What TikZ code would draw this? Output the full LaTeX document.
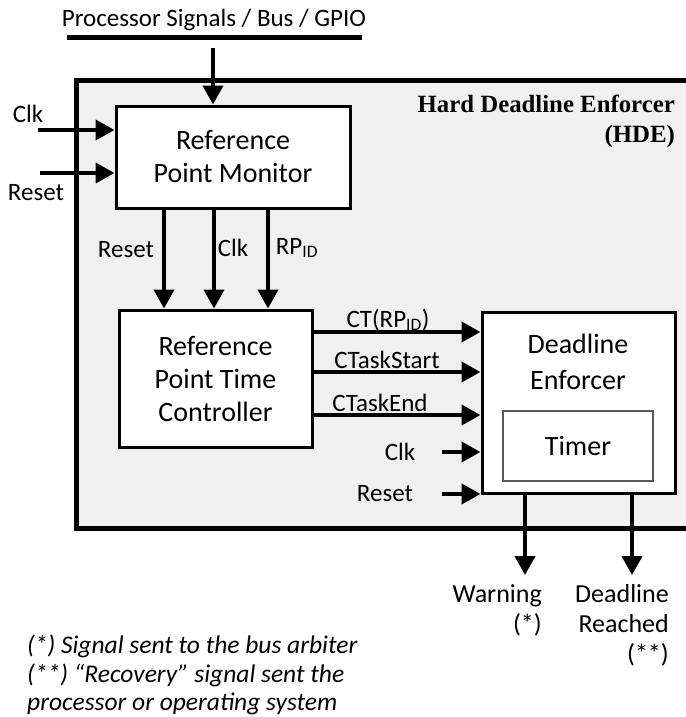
\documentclass[tikz,border=0pt]{standalone}
\usepackage{fontspec}
\setmainfont{Carlito}
\newfontfamily\titlefont{Liberation Serif}
\usetikzlibrary{arrows.meta}
\definecolor{hdegray}{RGB}{240,240,240}
\begin{document}
\begin{tikzpicture}[x=1pt,y=-1pt,
  blk/.style={draw,line width=3pt,fill=white,inner sep=0pt,align=center,
    font=\fontsize{28}{33}\selectfont},
  sig/.style={line width=4pt,-{Triangle[length=19pt,width=20pt]}},
  lbl/.style={inner sep=0pt,font=\fontsize{25}{30}\selectfont},
  outl/.style={inner sep=0pt,align=right,font=\fontsize{26}{30}\selectfont}]
\useasboundingbox (0,0) rectangle (685,717);
% outer HDE box (open to the right edge)
\draw[line width=5pt,fill=hdegray] (690,528) -- (76,528) -- (76,80) -- (690,80);
\node[anchor=north east,align=right,inner sep=0pt,
  font=\titlefont\bfseries\fontsize{24.8}{30}\selectfont] (title) at (675,95)
  {Hard Deadline Enforcer\\(HDE)};
% bus
\coordinate (busl) at (67,38);
\coordinate (busr) at (362,38);
\draw[line width=5pt] (busl) -- (busr);
\node[lbl] (bus) at (214,20) {Processor Signals / Bus / GPIO};
% blocks
\node[blk,minimum width=234pt,minimum height=102pt] (rpm) at (233,157) {Reference\\Point Monitor};
\node[blk,minimum width=193pt,minimum height=137pt] (rptc) at (215.5,378.5) {Reference\\Point Time\\Controller};
\node[blk,minimum width=193pt,minimum height=181pt] (de) at (578.5,402.5) {};
\node[inner sep=0pt,align=center,font=\fontsize{28}{36}\selectfont] (delbl) at (578,362) {Deadline\\Enforcer};
\node[draw=black!65,line width=1.5pt,fill=white,minimum width=150pt,minimum height=70pt,
  font=\fontsize{28}{32}\selectfont] (timer) at (578,446) {Timer};
% bus to RPM
\coordinate (bustap) at (213,48);
\draw[sig] (bustap) -- (rpm.north -| bustap);
% RPM inputs
\coordinate (clkin) at (38,130);
\coordinate (rstin) at (40,173);
\draw[sig] (clkin) -- (rpm.west |- clkin);
\draw[sig] (rstin) -- (rpm.west |- rstin);
\node[lbl] (clkl) at (28,114) {Clk};
\node[lbl] (rstl) at (36,193) {Reset};
% RPM -> RPTC
\coordinate (xa) at (164,0);
\coordinate (xb) at (214,0);
\coordinate (xc) at (268,0);
\draw[sig] (rpm.south -| xa) -- (rptc.north -| xa);
\draw[sig] (rpm.south -| xb) -- (rptc.north -| xb);
\draw[sig] (rpm.south -| xc) -- (rptc.north -| xc);
\node[lbl] (l1) at (126,250) {Reset};
\node[lbl] (l2) at (233,248) {Clk};
\node[lbl] (l3) at (297,248) {RP\textsubscript{ID}};
% RPTC -> DE
\coordinate (ya) at (0,332);
\coordinate (yb) at (0,372);
\coordinate (yc) at (0,415);
\draw[sig] (rptc.east |- ya) -- (de.west |- ya);
\draw[sig] (rptc.east |- yb) -- (de.west |- yb);
\draw[sig] (rptc.east |- yc) -- (de.west |- yc);
\node[lbl,anchor=base] (s1) at (388,327) {CT(RP\textsubscript{ID})};
\node[lbl,anchor=base] (s2) at (387,368) {CTaskStart};
\node[lbl,anchor=base] (s3) at (380,411) {CTaskEnd};
% DE inputs
\coordinate (declk) at (442,452);
\coordinate (derst) at (442,494);
\draw[sig] (declk) -- (de.west |- declk);
\draw[sig] (derst) -- (de.west |- derst);
\node[lbl] (dclkl) at (400,452) {Clk};
\node[lbl] (drstl) at (385,494) {Reset};
% outputs
\coordinate (wout) at (525,575);
\coordinate (dout) at (632,575);
\draw[sig] (de.south -| wout) -- (wout);
\draw[sig] (de.south -| dout) -- (dout);
\node[outl,anchor=north east] (warn) at (542,584) {Warning\\(*)};
\node[outl,anchor=north east] (dlr) at (669,584) {Deadline\\Reached\\(**)};
% footnotes
\node[anchor=north west,align=left,inner sep=0pt,
  font=\itshape\fontsize{25.5}{28.5}\selectfont] (notes) at (27,635)
  {(*) Signal sent to the bus arbiter\\(**) “Recovery” signal sent the\\processor or operating system};
\end{tikzpicture}
\end{document}
